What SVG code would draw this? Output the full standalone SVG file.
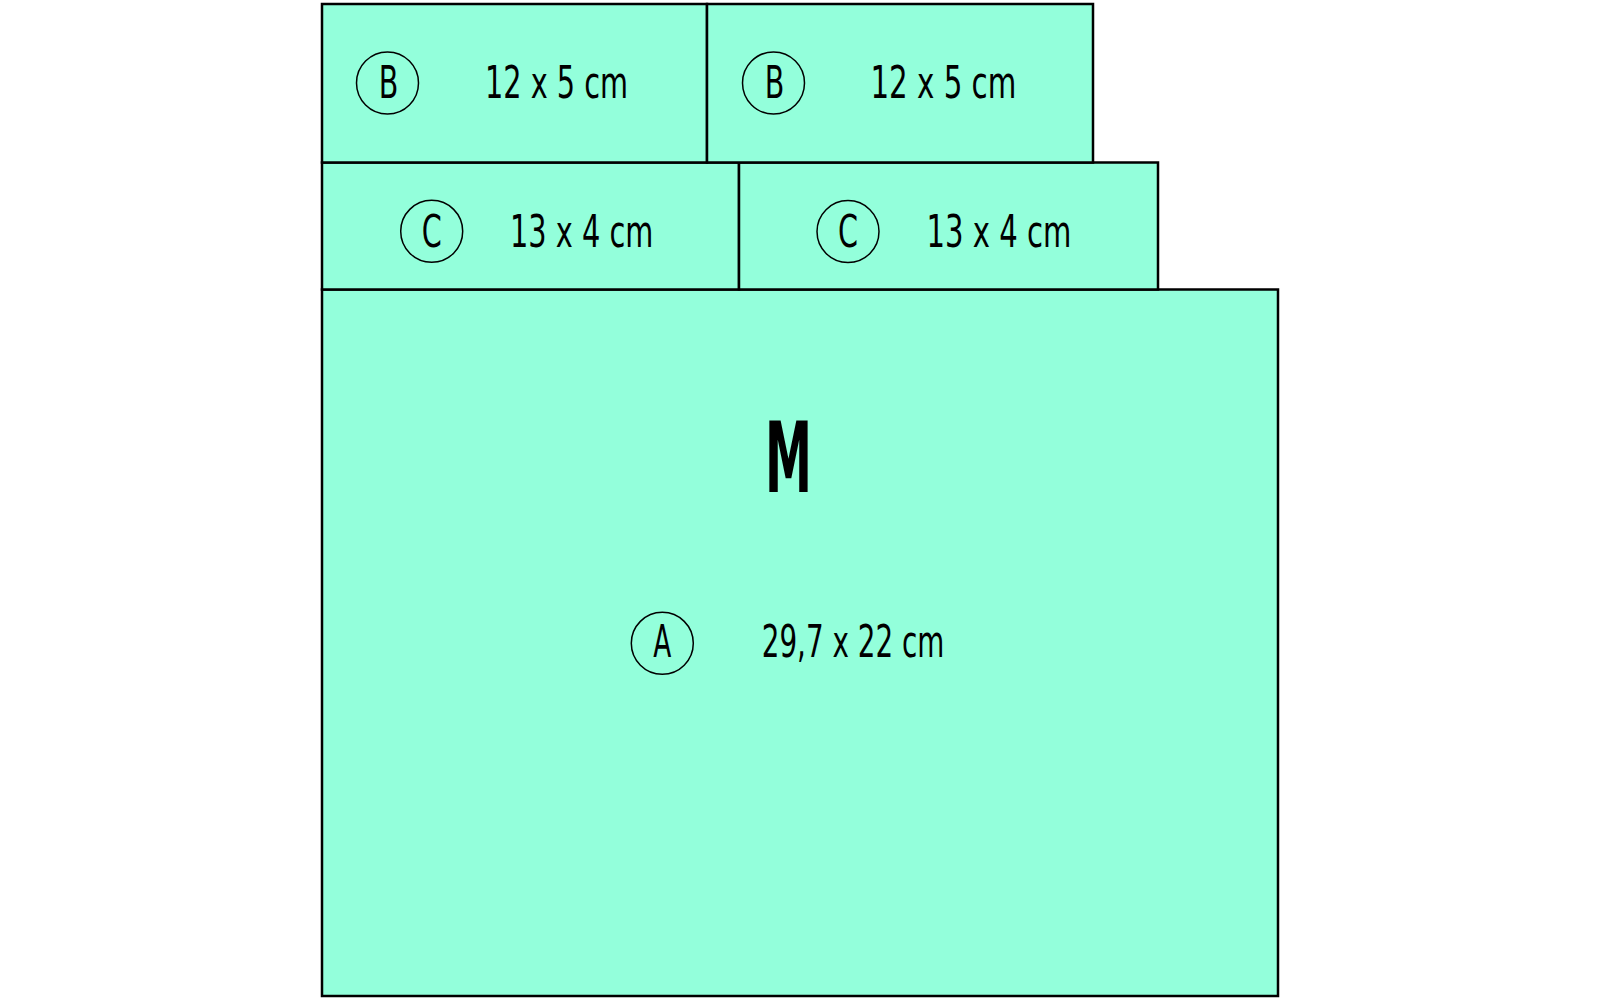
<svg xmlns="http://www.w3.org/2000/svg" width="1600" height="1000" viewBox="0 0 1600 1000">
<style>
.p{fill:#93FFDB;stroke:#000;stroke-width:2.5}
.c{fill:none;stroke:#000;stroke-width:1.5}
.t{font-family:"DejaVu Sans Condensed","DejaVu Sans","Liberation Sans",sans-serif;font-size:45px;fill:#000}
.m{font-family:"DejaVu Sans Condensed","DejaVu Sans","Liberation Sans",sans-serif;font-size:98px;font-weight:bold;fill:#000}
</style>
<rect width="1600" height="1000" fill="#fff"/>
<g id="M">
<rect class="p" x="322" y="289.5" width="956" height="706.5"/>
<text class="m" x="765" y="491.5" textLength="47" lengthAdjust="spacingAndGlyphs">M</text>
<circle class="c" cx="662.3" cy="643.3" r="31"/>
<text class="t" x="662.3" y="657" text-anchor="middle" textLength="18" lengthAdjust="spacingAndGlyphs">A</text>
<text class="t" x="761.7" y="657" textLength="182.6" lengthAdjust="spacingAndGlyphs">29,7 x 22 cm</text>
</g>
<g id="C1">
<rect class="p" x="322" y="162.5" width="417" height="127"/>
<circle class="c" cx="431.7" cy="231.3" r="31"/>
<text class="t" x="431.7" y="246.5" text-anchor="middle" textLength="20" lengthAdjust="spacingAndGlyphs">C</text>
<text class="t" x="510" y="246.5" textLength="143.3" lengthAdjust="spacingAndGlyphs">13 x 4 cm</text>
</g>
<g id="C2">
<rect class="p" x="739" y="162.5" width="419" height="127"/>
<circle class="c" cx="848" cy="231.6" r="31"/>
<text class="t" x="848" y="246.5" text-anchor="middle" textLength="20" lengthAdjust="spacingAndGlyphs">C</text>
<text class="t" x="926.5" y="246.5" textLength="144.9" lengthAdjust="spacingAndGlyphs">13 x 4 cm</text>
</g>
<g id="B1">
<rect class="p" x="322" y="4" width="385" height="158.5"/>
<circle class="c" cx="387.5" cy="83" r="31"/>
<text class="t" x="388.5" y="98.3" text-anchor="middle" textLength="19.6" lengthAdjust="spacingAndGlyphs">B</text>
<text class="t" x="485" y="98.3" textLength="143" lengthAdjust="spacingAndGlyphs">12 x 5 cm</text>
</g>
<g id="B2">
<rect class="p" x="707" y="4" width="386" height="158.5"/>
<circle class="c" cx="773.5" cy="83" r="31"/>
<text class="t" x="774.5" y="98.3" text-anchor="middle" textLength="19.6" lengthAdjust="spacingAndGlyphs">B</text>
<text class="t" x="870.4" y="98.3" textLength="145.9" lengthAdjust="spacingAndGlyphs">12 x 5 cm</text>
</g>
<g id="connectors"/>
</svg>
